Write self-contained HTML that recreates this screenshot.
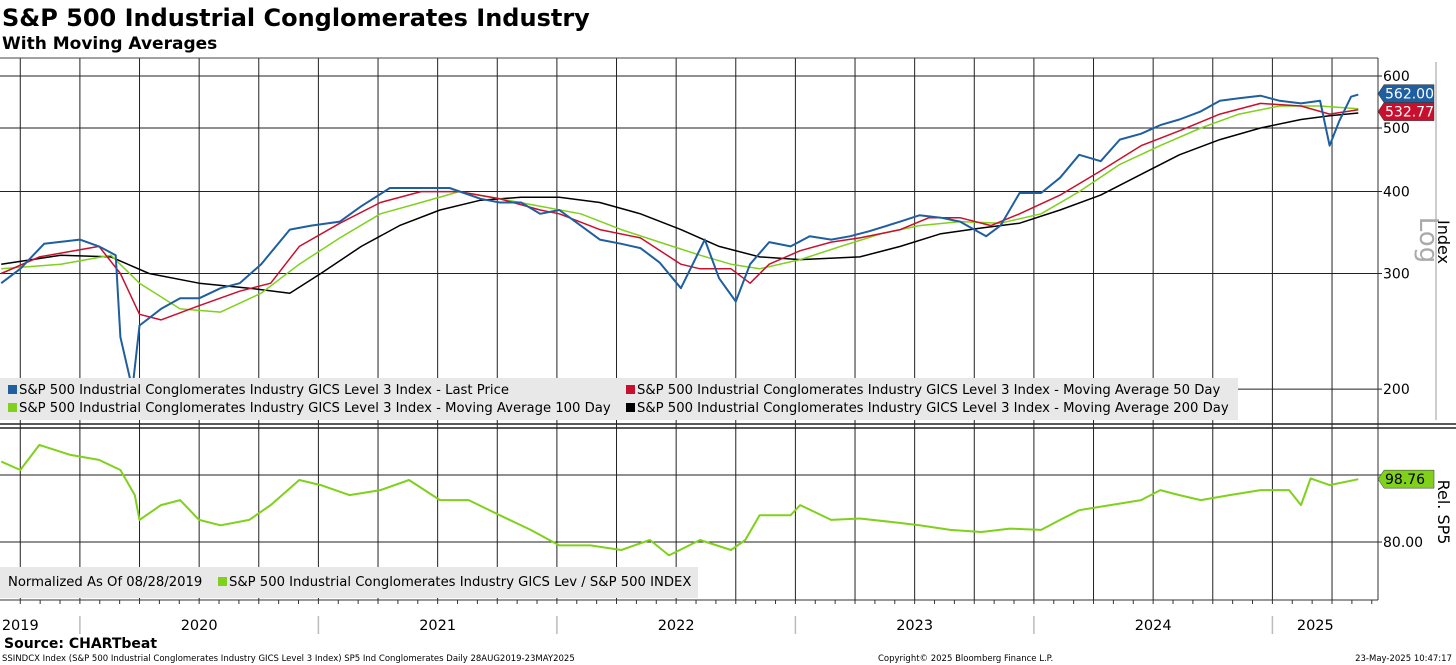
<!DOCTYPE html>
<html><head><meta charset="utf-8">
<style>
body{margin:0;background:#fff;width:1456px;height:665px;overflow:hidden;font-family:"DejaVu Sans","Liberation Sans",sans-serif;}
svg{position:absolute;left:0;top:0;font-family:"DejaVu Sans","Liberation Sans",sans-serif}
</style></head>
<body>
<svg id="chart" width="1456" height="665"></svg>
<script>
const priceDates=[2019.67,2019.75,2019.85,2020.00,2020.08,2020.15,2020.17,2020.22,2020.25,2020.34,2020.42,2020.50,2020.59,2020.67,2020.76,2020.88,2020.97,2021.09,2021.18,2021.30,2021.43,2021.55,2021.68,2021.76,2021.85,2021.93,2022.01,2022.10,2022.18,2022.27,2022.35,2022.43,2022.52,2022.62,2022.68,2022.75,2022.81,2022.89,2022.98,2023.06,2023.15,2023.23,2023.31,2023.44,2023.52,2023.61,2023.69,2023.80,2023.86,2023.94,2024.03,2024.11,2024.19,2024.28,2024.36,2024.45,2024.53,2024.61,2024.70,2024.78,2024.86,2024.95,2025.03,2025.12,2025.20,2025.24,2025.28,2025.33,2025.36];
const priceVals=[290,305,333,338,330,320,240,200,250,265,275,275,285,290,310,350,355,360,380,405,405,405,390,385,385,370,375,355,338,333,328,312,285,338,295,272,310,335,330,342,338,342,348,360,368,365,360,342,355,398,398,420,455,445,480,490,505,515,530,550,555,560,550,545,550,470,512,558,562];
const ma50Dates=[2019.67,2019.83,2020.08,2020.17,2020.25,2020.34,2020.50,2020.67,2020.80,2020.92,2021.09,2021.26,2021.43,2021.59,2021.76,2021.93,2022.01,2022.18,2022.35,2022.52,2022.60,2022.73,2022.81,2022.89,2023.02,2023.15,2023.27,2023.44,2023.56,2023.69,2023.82,2023.94,2024.11,2024.28,2024.45,2024.61,2024.78,2024.95,2025.12,2025.24,2025.36];
const ma50Vals=[300,318,330,300,260,255,268,282,290,330,358,385,400,400,390,375,370,350,340,310,305,305,290,310,325,335,340,350,365,365,355,370,395,430,470,495,525,545,540,525,533];
const ma100Dates=[2019.67,2019.92,2020.13,2020.25,2020.42,2020.59,2020.76,2020.92,2021.09,2021.26,2021.43,2021.59,2021.76,2021.93,2022.10,2022.27,2022.43,2022.60,2022.73,2022.85,2023.02,2023.19,2023.36,2023.52,2023.69,2023.86,2024.03,2024.19,2024.36,2024.53,2024.70,2024.86,2025.03,2025.20,2025.36];
const ma100Vals=[305,310,320,290,265,262,280,310,340,370,385,400,390,380,370,350,335,320,310,305,315,330,345,355,360,358,370,400,440,470,500,525,540,540,535];
const ma200Dates=[2019.67,2019.92,2020.13,2020.29,2020.50,2020.71,2020.88,2021.01,2021.18,2021.34,2021.51,2021.68,2021.85,2022.01,2022.18,2022.35,2022.52,2022.68,2022.85,2023.02,2023.27,2023.44,2023.61,2023.78,2023.94,2024.11,2024.28,2024.45,2024.61,2024.78,2024.95,2025.12,2025.24,2025.36];
const ma200Vals=[310,320,318,300,290,285,280,300,330,355,375,388,392,392,385,370,350,330,318,315,318,330,345,352,358,375,395,425,455,480,500,515,522,527];
const relDates=[2019.67,2019.75,2019.83,2019.96,2020.08,2020.17,2020.23,2020.25,2020.34,2020.42,2020.50,2020.59,2020.71,2020.80,2020.92,2021.01,2021.13,2021.26,2021.38,2021.51,2021.63,2021.76,2021.89,2022.01,2022.14,2022.27,2022.39,2022.47,2022.60,2022.73,2022.79,2022.85,2022.98,2023.02,2023.15,2023.27,2023.40,2023.52,2023.65,2023.78,2023.90,2024.03,2024.11,2024.19,2024.32,2024.45,2024.53,2024.61,2024.70,2024.82,2024.95,2025.07,2025.12,2025.16,2025.24,2025.36];
const relVals=[104,101.5,109,106,104.5,101.5,94,86.6,91,92.5,86.6,85,86.6,91,98.5,97,94,95.5,98.5,92.5,92.5,88,83.6,79,79,77.6,80.6,76,80.6,77.6,80.6,88,88,91,86.6,87,86,85,83.6,83,84,83.6,86.6,89.5,91,92.5,95.5,94,92.5,94,95.5,95.5,91,99,97,98.76];
const topTicks=[600,500,400,300,200];
const yearLabels=["2019","2020","2021","2022","2023","2024","2025"];
const yearPos=[2019.75,2020.5,2021.5,2022.5,2023.5,2024.5,2025.18];

const NS="http://www.w3.org/2000/svg";
const svg=document.getElementById('chart');
function mk(tag,attrs,parent){const e=document.createElementNS(NS,tag);for(const k in attrs)e.setAttribute(k,attrs[k]);(parent||svg).appendChild(e);return e;}
const X=y=>(y-2019.665)*238.5;
const YT=v=>76-285*Math.log(v/600);
const YB=v=>542-(v-80)*3.35;
const PR=1378;

let t=mk('text',{x:2,y:26,'font-size':24,'font-weight':'bold',fill:'#000'});t.textContent='S&P 500 Industrial Conglomerates Industry';

t=mk('text',{x:2,y:49,'font-size':17,'font-weight':'bold',fill:'#000'});t.textContent='With Moving Averages';


for(let q=2019.75;q<2025.4;q+=0.25){
  const x=X(q);
  const l=mk('line',{x1:x,x2:x,y1:58,y2:600,stroke:'#222','stroke-width':1});
  
}
mk('line',{x1:0,x2:PR,y1:58,y2:58,stroke:'#444'});
topTicks.forEach(v=>{
  const y=YT(v);
  const l=mk('line',{x1:0,x2:PR+4,y1:y,y2:y,stroke:'#222'});
  
  const tx=mk('text',{x:PR+5,y:y+5,'font-size':14,fill:'#000'});tx.textContent=v;
  
});
[100,80].forEach(v=>{const y=YB(v);const l=mk('line',{x1:0,x2:PR+4,y1:y,y2:y,stroke:'#222'});
 });
mk('line',{x1:PR,x2:PR,y1:58,y2:600,stroke:'#333'});
mk('line',{x1:0,x2:1456,y1:424,y2:424,stroke:'#222','stroke-width':1.5});
mk('line',{x1:0,x2:1456,y1:428,y2:428,stroke:'#222','stroke-width':1.5});
mk('line',{x1:0,x2:PR,y1:600,y2:600,stroke:'#333'});
mk('line',{x1:1436,x2:1436,y1:62,y2:420,stroke:'#999'});

function line(dates,vals,yf,color,w,name){
  const d=dates.map((q,i)=>(i?'L':'M')+X(q).toFixed(1)+','+yf(vals[i]).toFixed(1)).join('');
  const p=mk('path',{d:d,fill:'none',stroke:color,'stroke-width':w,'stroke-linejoin':'round'});
  
}
line(ma200Dates,ma200Vals,YT,'#000',1.5,'ma200-line');
line(ma100Dates,ma100Vals,YT,'#7fd11b',1.5,'ma100-line');
line(ma50Dates,ma50Vals,YT,'#c8102e',1.5,'ma50-line');
line(priceDates,priceVals,YT,'#1f5fa0',2,'price-line');
line(relDates,relVals,YB,'#7fd11b',2,'relative-line');

function tag(y,val,bg,name,fg){
  const g=mk('g',{});
  mk('path',{d:`M${PR} ${y} L${PR+6} ${y-9} H${PR+56} V${y+9} H${PR+6} Z`,fill:bg,stroke:'#333','stroke-width':0.5},g);
  const tx=mk('text',{x:PR+7,y:y+5,'font-size':14,fill:fg},g);tx.textContent=val;
}
tag(YT(562)-1,'562.00','#1f5fa0','price-value-tag','#fff');
tag(YT(562)+17,'532.77','#c8102e','ma50-value-tag','#fff');
tag(YB(98.76),'98.76','#7fd11b','relative-value-tag','#000');
t=mk('text',{x:PR+5,y:YB(80)+5,'font-size':14,fill:'#000'});t.textContent='80.00';


t=mk('text',{x:1420,y:240,'font-size':26,fill:'#aaa',transform:'rotate(90 1420 240)','text-anchor':'middle'});t.textContent='Log';

t=mk('text',{x:1438,y:242,'font-size':16,fill:'#000',transform:'rotate(90 1438 242)','text-anchor':'middle'});t.textContent='Index';

t=mk('text',{x:1438,y:512,'font-size':16,fill:'#000',transform:'rotate(90 1438 512)','text-anchor':'middle'});t.textContent='Rel. SP5';


let lg=mk('g',{});
mk('rect',{x:0,y:378,width:1238,height:42,fill:'#e8e8e8'},lg);
const leg=[[8,394,'#1f5fa0','S&P 500 Industrial Conglomerates Industry GICS Level 3 Index - Last Price'],
[626,394,'#c8102e','S&P 500 Industrial Conglomerates Industry GICS Level 3 Index - Moving Average 50 Day'],
[8,412,'#7fd11b','S&P 500 Industrial Conglomerates Industry GICS Level 3 Index - Moving Average 100 Day'],
[626,412,'#000','S&P 500 Industrial Conglomerates Industry GICS Level 3 Index - Moving Average 200 Day']];
leg.forEach(a=>{const g=mk('g',{},lg);
 mk('rect',{x:a[0],y:a[1]-9,width:9,height:9,fill:a[2]},g);
 const tx=mk('text',{x:a[0]+11,y:a[1],'font-size':13.2,fill:'#000'},g);tx.textContent=a[3];});
lg=mk('g',{});
mk('rect',{x:0,y:567,width:698,height:31,fill:'#e8e8e8'},lg);
t=mk('text',{x:8,y:586,'font-size':13.2,fill:'#000'},lg);t.textContent='Normalized As Of 08/28/2019';
mk('rect',{x:218,y:577,width:9,height:9,fill:'#7fd11b'},lg);
t=mk('text',{x:229,y:586,'font-size':13.2,fill:'#000'},lg);t.textContent='S&P 500 Industrial Conglomerates Industry GICS Lev / S&P 500 INDEX';

for(let m=2019.75;m<2025.42;m+=1/12){const x=X(m);mk('line',{x1:x,x2:x,y1:600,y2:604,stroke:'#333'});}
[2020,2021,2022,2023,2024,2025].forEach(y=>{const x=X(y);mk('line',{x1:x,x2:x,y1:616,y2:634,stroke:'#bbb','stroke-width':1.5});});
yearLabels.forEach((s,i)=>{const tx=mk('text',{x:X(yearPos[i]),y:630,'font-size':14.5,fill:'#000','text-anchor':'middle'});tx.textContent=s;
 });

t=mk('text',{x:4,y:648,'font-size':14,'font-weight':'bold',fill:'#000'});t.textContent='Source: CHARTbeat';

t=mk('text',{x:2,y:661,'font-size':8.5,fill:'#000'});t.textContent='SSINDCX Index (S&P 500 Industrial Conglomerates Industry GICS Level 3 Index) SP5 Ind Conglomerates  Daily 28AUG2019-23MAY2025';

t=mk('text',{x:878,y:661,'font-size':8.5,fill:'#000'});t.textContent='Copyright© 2025 Bloomberg Finance L.P.';

t=mk('text',{x:1452,y:661,'font-size':8.5,fill:'#000','text-anchor':'end'});t.textContent='23-May-2025 10:47:17';

</script>
</body></html>
